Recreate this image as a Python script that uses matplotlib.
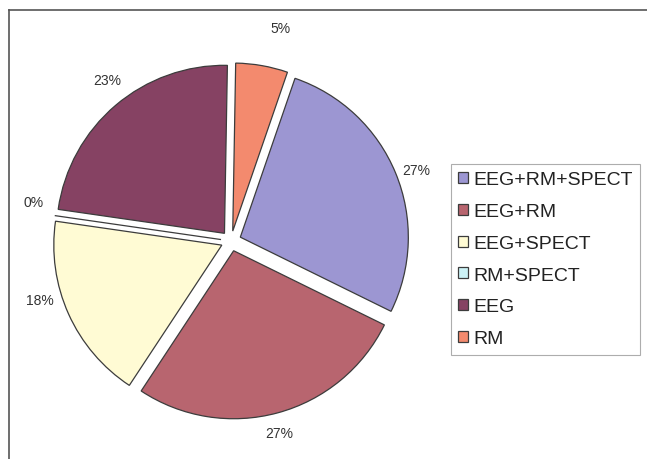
import numpy as np
import matplotlib.pyplot as plt

# share of patients by examination combination
categories = ["EEG+RM+SPECT", "EEG+RM", "EEG+SPECT", "RM+SPECT", "EEG", "RM"]
shares = [27, 27, 18, 0, 23, 5]
colors = ["#9c96d2", "#b8656f", "#fffbd4", "#ccf2f6", "#864263", "#f38a6e"]

plt.rcParams['font.family'] = ['Liberation Sans', 'DejaVu Sans']

W, H = 647, 460
CX, CY, R = 231, 218, 168

fig = plt.figure(figsize=(W / 100, H / 100), dpi=100)
# axes spanning the whole figure, one data unit per pixel
ax = fig.add_axes([0, 0, 1, 1])

# frame round the chart area
ax.plot([9, W], [H - 11, H - 11], color='#555555', lw=1.2)
ax.plot([9, 9], [H - 11, 0], color='#555555', lw=1.2)

wedges, _, pcts = ax.pie(
    shares,
    colors=colors,
    labels=None,
    autopct='%.0f%%',
    startangle=71,
    counterclock=False,
    explode=[0.06 * R] * len(shares),
    center=(CX, CY),
    radius=R,
    wedgeprops=dict(edgecolor='#3c3c3c', linewidth=0.9),
    textprops=dict(fontsize=10, color='#333333'),
    frame=True,
)
ax.set_xlim(0, W)
ax.set_ylim(0, H)
ax.set_aspect('equal')
ax.axis('off')

# percentage labels sit outside the pie, around each slice's mid angle
label_dist = [1.18, 1.18, 1.19, 1.2, 1.21, 1.3]
label_turn = [-1.5, -1, -7, -3, -3, -3]
for w, t, d, da in zip(wedges, pcts, label_dist, label_turn):
    th = np.deg2rad((w.theta1 + w.theta2) / 2 + da)
    t.set_position((CX + d * R * np.cos(th), CY + d * R * np.sin(th)))
    t.set_ha('center')
    t.set_va('center')

leg = ax.legend(
    wedges, categories,
    loc='upper left',
    bbox_to_anchor=(451 / W, 1 - 165 / H),
    bbox_transform=fig.transFigure,
    fontsize=14,
    frameon=True,
    fancybox=False,
    edgecolor='#999999',
    handlelength=0.5,
    handleheight=0.5,
    handletextpad=0.25,
    labelspacing=0.76,
    borderpad=0.38,
    borderaxespad=0,
)
leg.get_frame().set_linewidth(0.8)
for t in leg.get_texts():
    t.set_color('#222222')

fig.savefig('out.png', dpi=100)
